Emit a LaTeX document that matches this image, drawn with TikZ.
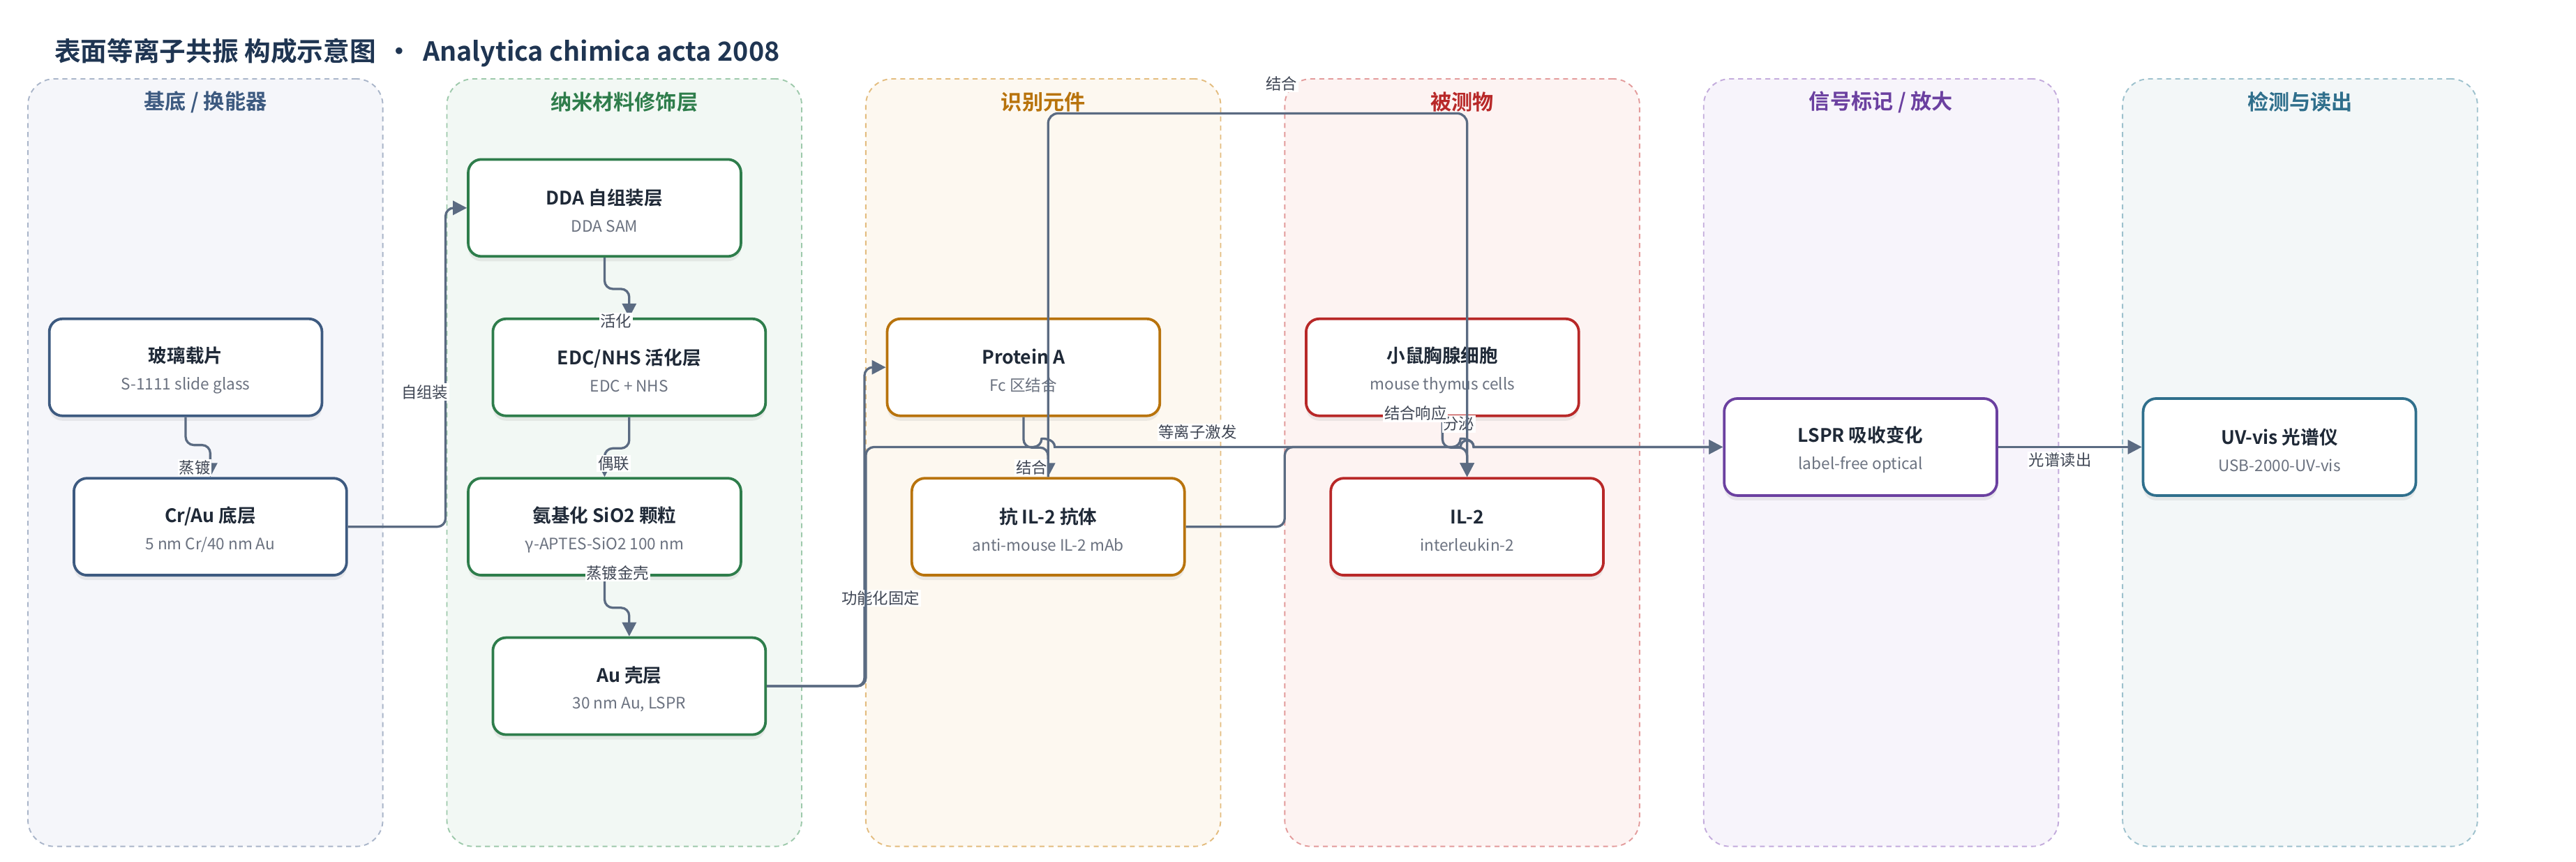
\documentclass[tikz,border=0pt]{standalone}
\usepackage{fontspec}
\setmainfont{Noto Sans CJK SC}[BoldFont={Noto Sans CJK SC Bold}]
\usetikzlibrary{arrows.meta,shadows,calc}
\definecolor{ink}{HTML}{1F2937}
\definecolor{subg}{HTML}{6B7280}
\definecolor{ttl}{HTML}{1F3552}
\definecolor{ec}{HTML}{5B6B82}
\definecolor{lblc}{HTML}{3F4654}
\definecolor{c1}{HTML}{3D5A80}
\definecolor{c2}{HTML}{2E7D4B}
\definecolor{c3}{HTML}{B8730C}
\definecolor{c4}{HTML}{B82828}
\definecolor{c5}{HTML}{6B40A0}
\definecolor{c6}{HTML}{2F6F8C}
\definecolor{p1}{HTML}{F5F6FA}
\definecolor{p2}{HTML}{F2F8F4}
\definecolor{p3}{HTML}{FDF8F0}
\definecolor{p4}{HTML}{FDF3F2}
\definecolor{p5}{HTML}{F7F4FB}
\definecolor{p6}{HTML}{F3F7F8}
\definecolor{b1}{HTML}{A9B5C9}
\definecolor{b2}{HTML}{9DC9AB}
\definecolor{b3}{HTML}{E3BC7E}
\definecolor{b4}{HTML}{E39B9B}
\definecolor{b5}{HTML}{C3ABDC}
\definecolor{b6}{HTML}{9DC1CD}
\newcommand\nt[2]{{\fontsize{11.3}{16.5}\selectfont\bfseries\color{ink}\rule{0pt}{13.2pt}#1}\\#2}
\tikzset{
  panel/.style={draw=#1, line width=0.8pt, dash pattern=on 3pt off 2.5pt, rounded corners=16pt, minimum width=216pt, minimum height=467pt, inner sep=0pt},
  ptitle/.style={text=#1, font=\fontsize{12.8}{14}\selectfont\bfseries, inner sep=0pt},
  box/.style={draw=#1, line width=1.6pt, fill=white, rounded corners=8pt, minimum width=166pt, minimum height=59pt, inner sep=0pt, align=center, text=subg, font=\fontsize{9.6}{16.5}\selectfont, drop shadow={shadow xshift=0pt, shadow yshift=-3pt, opacity=0.13}},
  conn/.style={draw=ec, line width=1.4pt, rounded corners=5pt, -{Triangle[length=8.5pt,width=8.5pt]}},
  lbl/.style={fill=white, inner sep=0.8pt, text=lblc, font=\fontsize{9.5}{11}\selectfont}
}
\begin{document}
\begin{tikzpicture}[x=1pt,y=-1pt]
\useasboundingbox (0,0) rectangle (1568,524.5);
\fill[white] (0,0) rectangle (1568,524.5);
% title
\node[anchor=west, inner sep=0pt, text=ttl, font=\fontsize{16}{18}\selectfont\bfseries] (title) at (33,32) {表面等离子共振 构成示意图 \,·\, Analytica chimica acta 2008};
% panels
\node[panel=b1, fill=p1] (P1) at (125,281.5) {};
\node[panel=b2, fill=p2] (P2) at (380,281.5) {};
\node[panel=b3, fill=p3] (P3) at (635,281.5) {};
\node[panel=b4, fill=p4] (P4) at (890,281.5) {};
\node[panel=b5, fill=p5] (P5) at (1145,281.5) {};
\node[panel=b6, fill=p6] (P6) at (1400,281.5) {};
\node[ptitle=c1] (T1) at (125,62) {基底 / 换能器};
\node[ptitle=c2] (T2) at (380,62) {纳米材料修饰层};
\node[ptitle=c3] (T3) at (635,62) {识别元件};
\node[ptitle=c4] (T4) at (890,62) {被测物};
\node[ptitle=c5] (T5) at (1145,62) {信号标记 / 放大};
\node[ptitle=c6] (T6) at (1400,62) {检测与读出};
% nodes
\node[box=c1] (glass) at (113,223.5) {\nt{玻璃载片}{S-1111 slide glass}};
\node[box=c1] (crau) at (128,320.5) {\nt{Cr/Au 底层}{5 nm Cr/40 nm Au}};
\node[box=c2] (dda) at (368,126.5) {\nt{DDA 自组装层}{DDA SAM}};
\node[box=c2] (edc) at (383,223.5) {\nt{EDC/NHS 活化层}{EDC + NHS}};
\node[box=c2] (sio2) at (368,320.5) {\nt{氨基化 SiO2 颗粒}{γ-APTES-SiO2 100 nm}};
\node[box=c2] (au) at (383,417.5) {\nt{Au 壳层}{30 nm Au, LSPR}};
\node[box=c3] (pa) at (623,223.5) {\nt{Protein A}{Fc 区结合}};
\node[box=c3] (ab) at (638,320.5) {\nt{抗 IL-2 抗体}{anti-mouse IL-2 mAb}};
\node[box=c4] (cells) at (878,223.5) {\nt{小鼠胸腺细胞}{mouse thymus cells}};
\node[box=c4] (il2) at (893,320.5) {\nt{IL-2}{interleukin-2}};
\node[box=c5] (lspr) at (1132.5,272) {\nt{LSPR 吸收变化}{label-free optical}};
\node[box=c6] (uv) at (1387.5,272) {\nt{UV-vis 光谱仪}{USB-2000-UV-vis}};
% helper coordinates
\coordinate (toprail) at (765,69);
\coordinate (railL) at (527,272);
\coordinate (railM) at (782,272);
\coordinate (hopAin) at (634,272);
\coordinate (hopAout) at (642,272);
\coordinate (hopBin) at (889,272);
\coordinate (hopBout) at (897,272);
% edges with labels
\draw[conn] (glass.south) -- ++(0,17) -| (crau.north);
\node[lbl] (l1) at (118.5,284.5) {蒸镀};
\draw[conn] (crau.east) -| ([xshift=-13pt]dda.west) -- (dda.west);
\node[lbl] (l2) at (258.5,238.5) {自组装};
\draw[conn] (dda.south) -- ++(0,19) -| (edc.north);
\node[lbl] (l3) at (375,195.5) {活化};
\draw[conn] (edc.south) -- ++(0,19) -| (sio2.north);
\node[lbl] (l4) at (373.5,282) {偶联};
\draw[conn] (sio2.south) -- ++(0,19) -| (au.north);
\node[lbl] (l5) at (376,348.5) {蒸镀金壳};
\draw[conn] (au.east) -| ([xshift=-13pt]pa.west) -- (pa.west);
\node[lbl] (l6) at (536,364) {功能化固定};
\draw[conn] (pa.south) -- ++(0,18.5) -| (ab.north);
\node[lbl] (l7) at (628,284.5) {结合};
\draw[conn] (cells.south) -- ++(0,18.5) -| (il2.north);
\node[lbl] (l9) at (888,258) {分泌};
\draw[conn, rounded corners=6pt] (ab.north) |- (toprail) -| (il2.north);
\node[lbl] (l8) at (780,51) {结合};
\draw[conn] (ab.east) -| (railM) -- (hopBin) [sharp corners] .. controls +(0,-5.3) and +(0,-5.3) .. (hopBout) -- (lspr.west);
\node[lbl] (l10) at (861.6,251.6) {结合响应};
\draw[conn] (au.east) -| (railL) -- (hopAin) [sharp corners] .. controls +(0,-5.3) and +(0,-5.3) .. (hopAout) -- (hopBin) .. controls +(0,-5.3) and +(0,-5.3) .. (hopBout) -- (lspr.west);
\node[lbl] (l11) at (729,263) {等离子激发};
\draw[conn] (lspr.east) -- (uv.west);
\node[lbl] (l12) at (1254,280) {光谱读出};
\end{tikzpicture}
\end{document}
